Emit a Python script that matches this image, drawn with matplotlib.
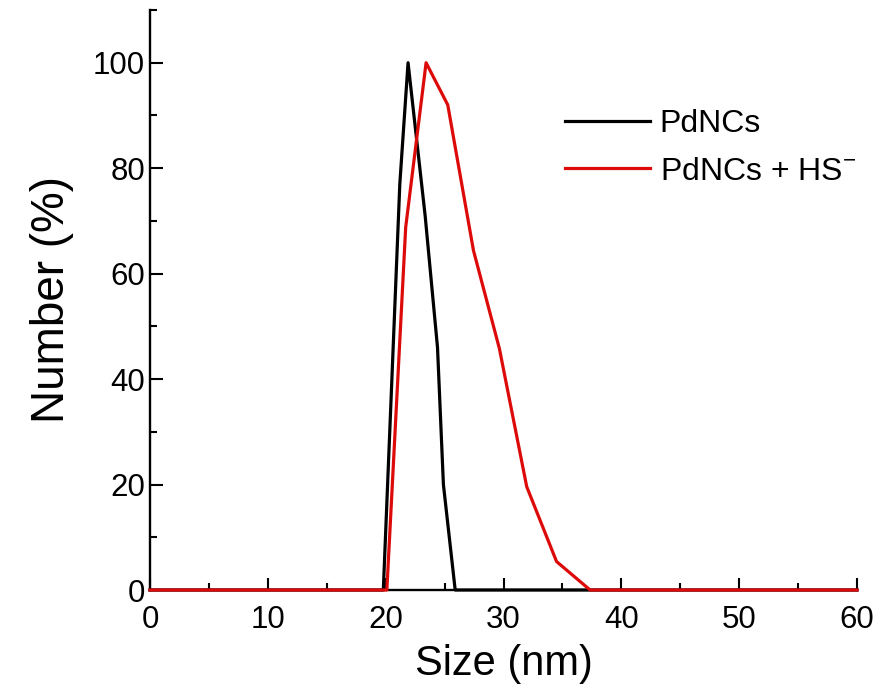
import matplotlib
matplotlib.use("Agg")
import matplotlib.pyplot as plt
from matplotlib.ticker import MultipleLocator

# Data
size_pd = [0, 19.8, 21.2, 21.9, 23.35, 24.4, 24.9, 25.9, 60]
num_pd = [0, 0, 77, 100, 71, 46, 20, 0, 0]

size_pdhs = [0, 20.1, 21.7, 23.43, 25.27, 27.45, 29.65, 31.97, 34.5, 37.35, 60]
num_pdhs = [0, 0, 68.8, 100, 92, 64.4, 45.8, 19.6, 5.4, 0, 0]

labels = ["PdNCs", "PdNCs + HS$^{-}$"]
xticks = [0, 10, 20, 30, 40, 50, 60]
yticks = [0, 20, 40, 60, 80, 100]

plt.rcParams['font.family'] = ['Liberation Sans', 'DejaVu Sans']
plt.rcParams['mathtext.fontset'] = 'custom'
plt.rcParams['mathtext.rm'] = 'Liberation Sans'

fig = plt.figure(figsize=(8.81, 6.95), dpi=100)
ax = fig.add_axes([150/881, 105/695, (857-150)/881, (590-10)/695])

ax.plot(size_pd, num_pd, color='black', lw=2.3, clip_on=False, zorder=3, label=labels[0])
ax.plot(size_pdhs, num_pdhs, color='#dd0a0a', lw=2.3, clip_on=False, zorder=4, label=labels[1])

ax.set_xlim(0, 60)
ax.set_ylim(0, 110)
ax.set_xticks(xticks)
ax.set_yticks(yticks)
ax.xaxis.set_minor_locator(MultipleLocator(5))
ax.yaxis.set_minor_locator(MultipleLocator(10))

for s in ['top', 'right']:
    ax.spines[s].set_visible(False)
for s in ['left', 'bottom']:
    ax.spines[s].set_linewidth(1.7)

ax.tick_params(which='major', direction='in', length=9, width=1.5, labelsize=22.5)
ax.tick_params(which='minor', direction='in', length=4.8, width=1.5)
ax.tick_params(axis='y', which='major', pad=3.5)
ax.tick_params(axis='x', which='major', pad=11)

ax.set_xlabel("Size (nm)", fontsize=30, labelpad=6)
ax.set_ylabel("Number (%)", fontsize=33, labelpad=14)

leg = ax.legend(loc='upper left', bbox_to_anchor=((565-150)/707, (590-109)/580),
                frameon=False, fontsize=23, handlelength=2.66, handletextpad=0.31,
                labelspacing=0.55, borderpad=0, borderaxespad=0)

fig.savefig("out.png", dpi=100)
